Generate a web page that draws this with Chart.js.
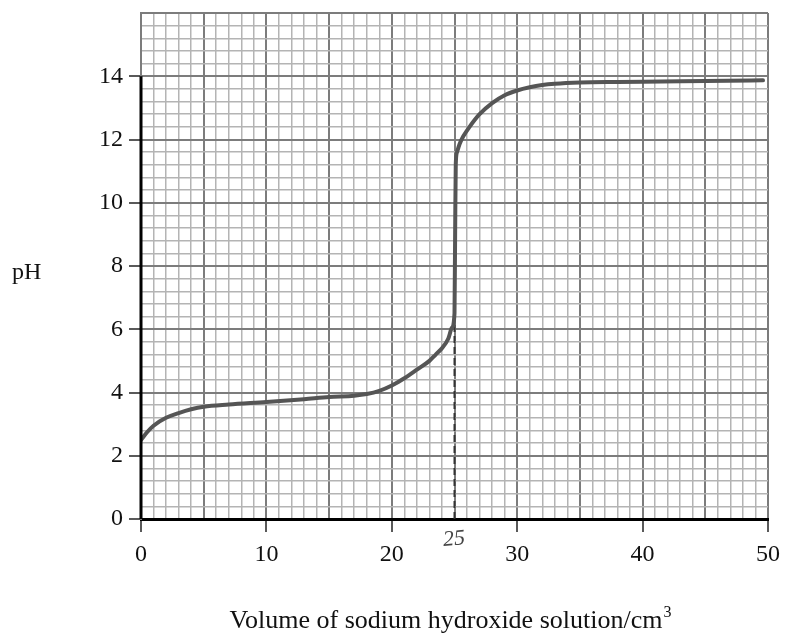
<!DOCTYPE html>
<html>
<head>
<meta charset="utf-8">
<script src="https://cdn.jsdelivr.net/npm/chart.js@4"></script>
<style>
	html, body { margin: 0; padding: 0; background: #fff; }
	#chart { display: block; }
</style>
</head>
<body>
<canvas id="chart" width="785" height="633"></canvas>
<script>
// titration curve
const volumes = [0, 0.5, 1, 2, 3, 4, 5, 7, 10, 13, 15, 17, 18, 19, 20, 21, 22, 23, 23.5, 24, 24.5, 24.8, 25, 25.05, 25.1, 25.2, 25.4, 25.7, 26.2, 27, 28, 29, 30, 31, 32, 33, 35, 38, 40, 45, 49.6];
const phValues = [2.5, 2.75, 2.95, 3.2, 3.35, 3.47, 3.55, 3.62, 3.7, 3.79, 3.86, 3.9, 3.95, 4.05, 4.22, 4.45, 4.72, 5.0, 5.2, 5.4, 5.7, 6.05, 6.5, 9.0, 11.2, 11.6, 11.85, 12.1, 12.4, 12.8, 13.15, 13.4, 13.55, 13.65, 13.72, 13.76, 13.8, 13.82, 13.83, 13.85, 13.87];

// dashed guide at the end point
const endPointVolume = [25, 25];
const endPointPh = [0, 6.3];

const xTickLabels = [0, 10, 20, 30, 40, 50];
const yTickLabels = [0, 2, 4, 6, 8, 10, 12, 14];
const xTitle = 'Volume of sodium hydroxide solution/cm';
const yTitle = 'pH';
const handNote = '25';

const FONT = 'Liberation Serif';
const MINOR = '#b4b4b4';
const MAJOR = '#7c7c7c';

const isMultiple = (v, m) => Math.abs(v / m - Math.round(v / m)) < 1e-6;
const hasLabel = (list, v) => list.some((t) => Math.abs(t - v) < 1e-6);

const extraText = {
	id: 'extraText',
	afterDraw(chart) {
		const { ctx, scales, chartArea } = chart;
		const x = scales.x, y = scales.y;
		ctx.save();
		// black part of the pH axis
		ctx.strokeStyle = '#000';
		ctx.lineWidth = 3;
		ctx.beginPath();
		ctx.moveTo(x.getPixelForValue(0), y.getPixelForValue(0));
		ctx.lineTo(x.getPixelForValue(0), y.getPixelForValue(14));
		ctx.stroke();

		ctx.fillStyle = '#111';
		ctx.textBaseline = 'alphabetic';
		ctx.font = '24px "' + FONT + '"';
		ctx.textAlign = 'left';
		ctx.fillText(yTitle, 12, (chartArea.top + chartArea.bottom) / 2 + 13);

		// x title with superscript 3
		ctx.font = '26px "' + FONT + '"';
		const w = ctx.measureText(xTitle).width;
		ctx.font = '16px "' + FONT + '"';
		const w3 = ctx.measureText('3').width;
		const left = (223 + 677) / 2 - (w + w3) / 2;
		ctx.font = '26px "' + FONT + '"';
		ctx.fillText(xTitle, left, 628);
		ctx.font = '16px "' + FONT + '"';
		ctx.fillText('3', left + w + 1, 617);

		// handwritten 25 under the end point
		ctx.translate(x.getPixelForValue(25) + 0, chartArea.bottom + 26);
		ctx.rotate(-0.08);
		ctx.font = 'italic 22px "' + FONT + '"';
		ctx.fillStyle = '#444';
		ctx.textAlign = 'center';
		ctx.fillText(handNote, 0, 0);
		ctx.restore();
	},
};

new Chart(document.getElementById('chart'), {
	type: 'line',
	data: {
		datasets: [
			{
				data: volumes.map((v, i) => ({ x: v, y: phValues[i] })),
				borderColor: '#555',
				borderWidth: 4,
				pointRadius: 0,
				cubicInterpolationMode: 'monotone',
				borderCapStyle: 'round',
			},
			{
				data: endPointVolume.map((v, i) => ({ x: v, y: endPointPh[i] })),
				borderColor: '#333',
				borderWidth: 2,
				borderDash: [7, 4],
				pointRadius: 0,
			},
		],
	},
	options: {
		responsive: false,
		animation: false,
		layout: { padding: { left: 0, right: 17, top: 13, bottom: 0 } },
		plugins: { legend: { display: false }, tooltip: { enabled: false } },
		scales: {
			x: {
				type: 'linear',
				min: 0,
				max: 50,
				afterFit: (s) => { s.height = 114; s.paddingLeft = 0; s.paddingRight = 0; },
				border: { color: '#000', width: 3 },
				grid: {
					color: (c) => (isMultiple(c.tick.value, 5) ? MAJOR : MINOR),
					lineWidth: (c) => (isMultiple(c.tick.value, 5) ? 2 : 1.5),
					tickColor: (c) => (hasLabel(xTickLabels, c.tick.value) ? '#222' : 'rgba(0,0,0,0)'),
					tickLength: 13,
					tickWidth: 1.5,
				},
				ticks: {
					stepSize: 1,
					autoSkip: false,
					maxRotation: 0,
					padding: 8,
					color: '#111',
					font: { family: FONT, size: 24 },
					callback: (v) => (hasLabel(xTickLabels, v) ? String(Math.round(v)) : ''),
				},
			},
			y: {
				type: 'linear',
				min: 0,
				max: 16,
				afterFit: (s) => { s.width = 141; s.paddingTop = 0; s.paddingBottom = 0; },
				border: { color: MAJOR, width: 2 },
				grid: {
					color: (c) => (isMultiple(c.tick.value, 2) ? MAJOR : MINOR),
					lineWidth: (c) => (isMultiple(c.tick.value, 2) ? 2 : 1.5),
					tickColor: (c) => (hasLabel(yTickLabels, c.tick.value) ? '#222' : 'rgba(0,0,0,0)'),
					tickLength: 12,
					tickWidth: 1.5,
				},
				ticks: {
					stepSize: 0.4,
					autoSkip: false,
					padding: 6,
					color: '#111',
					font: { family: FONT, size: 24 },
					callback: (v) => (hasLabel(yTickLabels, v) ? String(Math.round(v)) : ''),
				},
			},
		},
	},
	plugins: [extraText],
});
</script>
</body>
</html>
